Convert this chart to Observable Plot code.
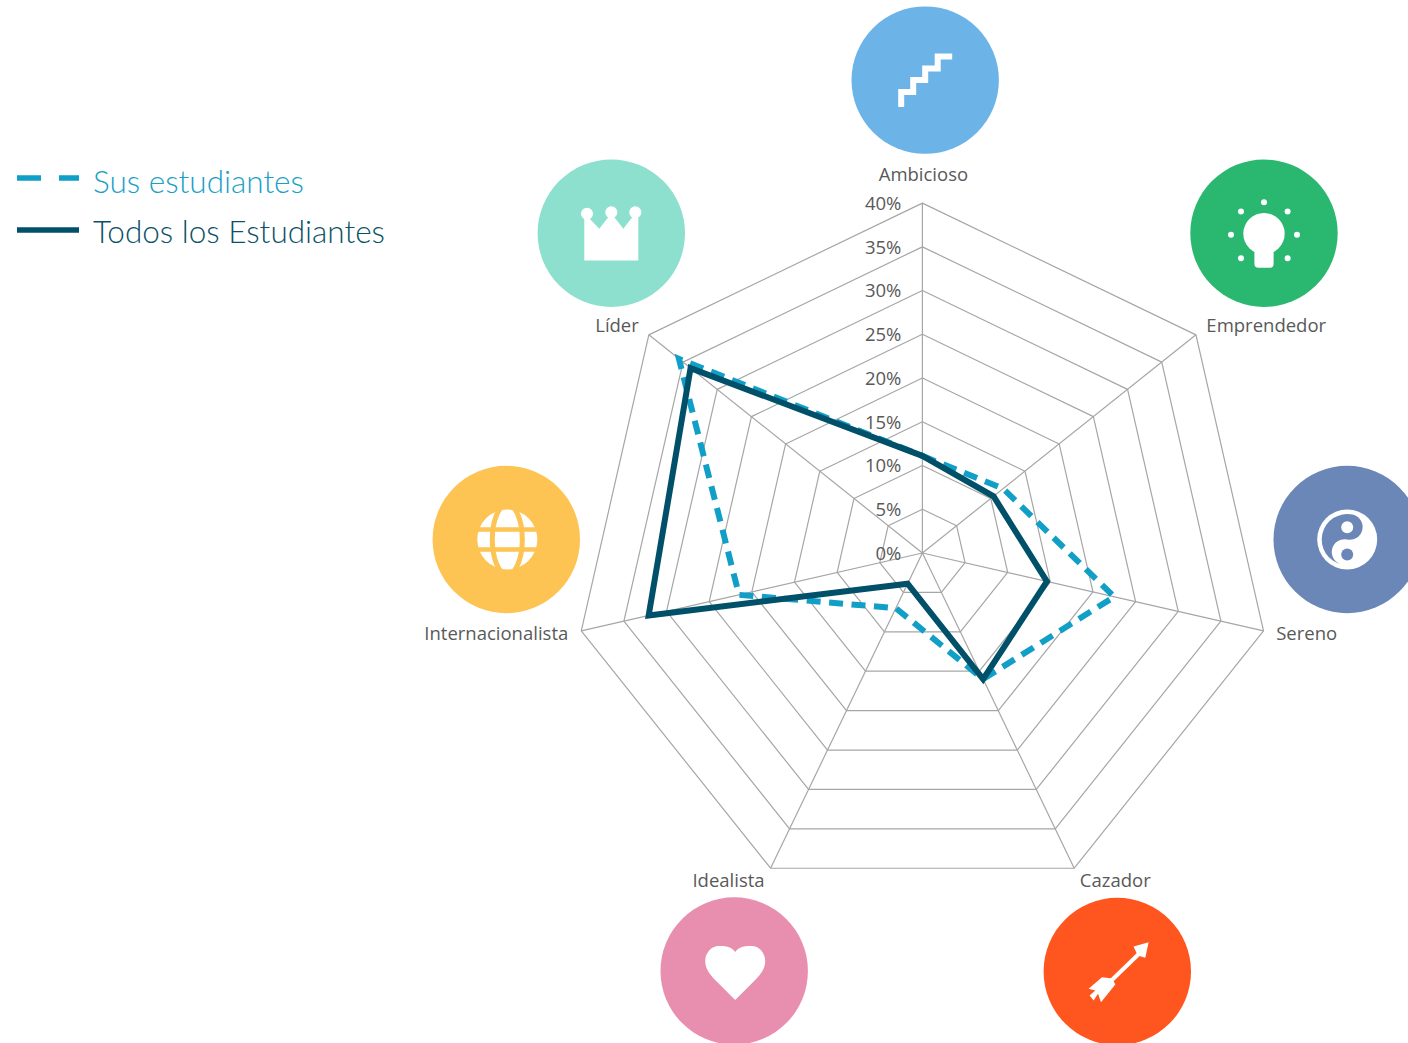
<!DOCTYPE html>
<html lang="es">
<head>
<meta charset="utf-8">
<script src="https://cdn.jsdelivr.net/npm/d3@7"></script>
<script src="https://cdn.jsdelivr.net/npm/@observablehq/plot@0.6"></script>
<style>
  html, body { margin: 0; background: #fff; width: 1408px; height: 1043px; overflow: hidden; }
  #chart { position: absolute; left: 0; top: 0; }
  #legend { position: absolute; left: 0; top: 0; font-family: Lato, "Noto Sans", sans-serif; font-size: 31.5px; }
  .key { position: absolute; left: 17px; white-space: nowrap; }
  .key svg { position: absolute; left: 0; top: 0; overflow: visible; }
  .key span { position: absolute; left: 76px; top: -21.5px; line-height: 42px; font-weight: 300; }
</style>
</head>
<body>
<div id="chart"></div>
<div id="legend">
  <div class="key" style="top:181px;color:#1a9fc6">
    <svg width="62" height="6"><line x1="0" x2="62" y1="-3" y2="-3" stroke="#129fc7" stroke-width="5.5" stroke-dasharray="24 18"/></svg>
    <span>Sus estudiantes</span>
  </div>
  <div class="key" style="top:231px;color:#0b5168">
    <svg width="62" height="6"><line x1="0" x2="62" y1="-1" y2="-1" stroke="#00506a" stroke-width="5.5"/></svg>
    <span>Todos los Estudiantes</span>
  </div>
</div>
<script>
// ---- chart values (percent) ----
const categories = ["Ambicioso", "Emprendedor", "Sereno", "Cazador", "Idealista", "Internacionalista", "Líder"];
const susEstudiantes = [11.1, 11.8, 22.5, 16.0, 7.0, 21.5, 35.6];
const todosEstudiantes = [11.1, 10.4, 14.6, 16.0, 3.9, 32.1, 33.9];
const ticks = [0, 5, 10, 15, 20, 25, 30, 35, 40];
const seriesNames = ["Sus estudiantes", "Todos los Estudiantes"];

// ---- layout ----
const W = 1408, H = 1043, cxPx = 921.9, cyPx = 552.5, pxPerPct = 349.9 / 40;
const ang = i => (i * 2 * Math.PI) / categories.length;
const px = (i, v) => v * Math.sin(ang(i));
const py = (i, v) => v * Math.cos(ang(i));
const point = (i, v) => ({i, v, x: px(i, v), y: py(i, v)});
const maxV = d3.max(ticks);

// label offsets from each axis tip (px) and icon centres (px)
const labelLayout = [
  {dx: 1, dy: -28, anchor: "middle"},
  {dx: 10.4, dy: -8.5, anchor: "start"},
  {dx: 12.7, dy: 3, anchor: "start"},
  {dx: 5.6, dy: 13, anchor: "start"},
  {dx: -6, dy: 13, anchor: "end"},
  {dx: -13, dy: 3, anchor: "end"},
  {dx: -10, dy: -8.5, anchor: "end"}
];
const iconCentres = [[924.7, 79.6], [1263.5, 232.7], [1346.7, 539], [1116.8, 971], [733.7, 970.5], [505.8, 539], [610.8, 232.7]];
const iconFills = ["#6cb4e8", "#2ab871", "#6a87b7", "#ff561f", "#e88faf", "#fdc454", "#8de0ce"];

const W_ = "#fff";
const glyphs = [
  `<path d="M-24 27V12H-12V0H0V-11.5H12.5V-23.5H27" fill="none" stroke="${W_}" stroke-width="6"/>`,
  `<circle cx="0" cy="0.5" r="20.7" fill="${W_}"/><path d="M-9.6 14V30.5Q-9.6 34.5 -5.6 34.5H5.6Q9.6 34.5 9.6 30.5V14Z" fill="${W_}"/>` +
    [[0,-31],[23.6,-21.7],[33,1.6],[23.6,25],[-23,25],[-33,1.6],[-23,-21.7]].map(([a,b]) => `<circle cx="${a}" cy="${b}" r="3" fill="${W_}"/>`).join(""),
  `<circle r="30" fill="${W_}"/><path transform="rotate(12)" d="M0-25.5A25.5 25.5 0 0 0 0 25.5A12.75 12.75 0 0 1 0 0A12.75 12.75 0 0 0 0-25.5Z" fill="#6a87b7"/>` +
    `<circle cx="0" cy="15" r="6" fill="#6a87b7"/><circle cx="0" cy="-12.3" r="6" fill="${W_}"/>`,
  `<path d="M16.3-25L31.3-29.3L28-13.7L20.3-16Z" fill="${W_}"/>` +
    `<path d="M22-18L-9 12" stroke="${W_}" stroke-width="4"/>` +
    `<path d="M-15.3 5.7L-5 7L-2 13L-16.3 30.7L-19.3 22.3L-23.7 29L-27.7 24L-22 19L-28.7 17.3Z" fill="${W_}"/>`,
  `<path d="M1-19C-4-26-12-25-17-25C-24-24-29-17-29-10C-29-1-23 5-16 12L1 29L18 12C25 5 31-1 31-10C31-17 26-24 19-25C14-25 6-26 1-19Z" fill="${W_}"/>`,
  `<g transform="translate(1 0)"><circle r="30" fill="${W_}"/><ellipse rx="15" ry="35" fill="none" stroke="#fdc454" stroke-width="5"/>` +
    `<path d="M-31-10H31M-31 10H31" stroke="#fdc454" stroke-width="4.5"/></g>`,
  `<path d="M-27 27.3V-19L-24-17L-12-4.4L0-20L12-4.4L24-20L27-19V27.3Z" fill="${W_}"/>` +
    [[-24.3,-19.4],[0,-21],[24,-21]].map(([a,b]) => `<circle cx="${a}" cy="${b}" r="6" fill="${W_}"/>`).join("")
];
const glyphUri = g => "data:image/svg+xml;utf8," + encodeURIComponent(
  `<svg xmlns="http://www.w3.org/2000/svg" viewBox="-74 -74 148 148" width="148" height="148">${g}</svg>`);

// ---- derived tables ----
const rings = ticks.flatMap(t => categories.map((c, i) => point(i, t)).concat([point(0, t)]).map(p => ({...p, t})));
const spokes = categories.map((c, i) => ({c, x1: 0, y1: 0, x2: px(i, maxV), y2: py(i, maxV)}));
const closed = vals => vals.map((v, i) => point(i, v)).concat([point(0, vals[0])]);
const toX = p => (p - cxPx) / pxPerPct;
const toY = p => (cyPx - p) / pxPerPct;

const labelFont = {fontFamily: "'Open Sans', sans-serif", fontSize: 18.5, fill: "#595959"};

const plot = Plot.plot({
  width: W, height: H,
  margin: 0,
  x: {domain: [toX(0), toX(W)], range: [0, W], axis: null},
  y: {domain: [toY(0), toY(H)], range: [0, H], axis: null},
  marks: [
    Plot.line(rings, {x: "x", y: "y", z: "t", stroke: "#a6a6a6", strokeWidth: 1.2}),
    Plot.link(spokes, {x1: "x1", y1: "y1", x2: "x2", y2: "y2", stroke: "#a6a6a6", strokeWidth: 1.2}),
    Plot.text(ticks, {
      x: 0, y: t => t, text: t => `${t}%`, dx: -21, dy: 1, textAnchor: "end",
      ...labelFont
    }),
    Plot.line(closed(susEstudiantes), {
      x: "x", y: "y", stroke: "#129fc7", strokeWidth: 6, strokeDasharray: "14 8.5",
      strokeLinejoin: "miter", strokeMiterlimit: 10, strokeLinecap: "butt"
    }),
    Plot.line(closed(todosEstudiantes), {
      x: "x", y: "y", stroke: "#00506a", strokeWidth: 6,
      strokeLinejoin: "miter", strokeMiterlimit: 10
    }),
    ...categories.map((c, i) => Plot.text([c], {
      x: px(i, maxV), y: py(i, maxV), text: d => d,
      dx: labelLayout[i].dx, dy: labelLayout[i].dy, textAnchor: labelLayout[i].anchor,
      ...labelFont
    })),
    Plot.dot(categories, {
      x: (c, i) => toX(iconCentres[i][0]), y: (c, i) => toY(iconCentres[i][1]),
      r: 73.7, fill: (c, i) => iconFills[i], stroke: "none"
    }),
    Plot.image(categories, {
      x: (c, i) => toX(iconCentres[i][0]), y: (c, i) => toY(iconCentres[i][1]),
      width: 148, height: 148, src: (c, i) => glyphUri(glyphs[i])
    })
  ]
});
document.getElementById("chart").append(plot);
</script>
</body>
</html>
